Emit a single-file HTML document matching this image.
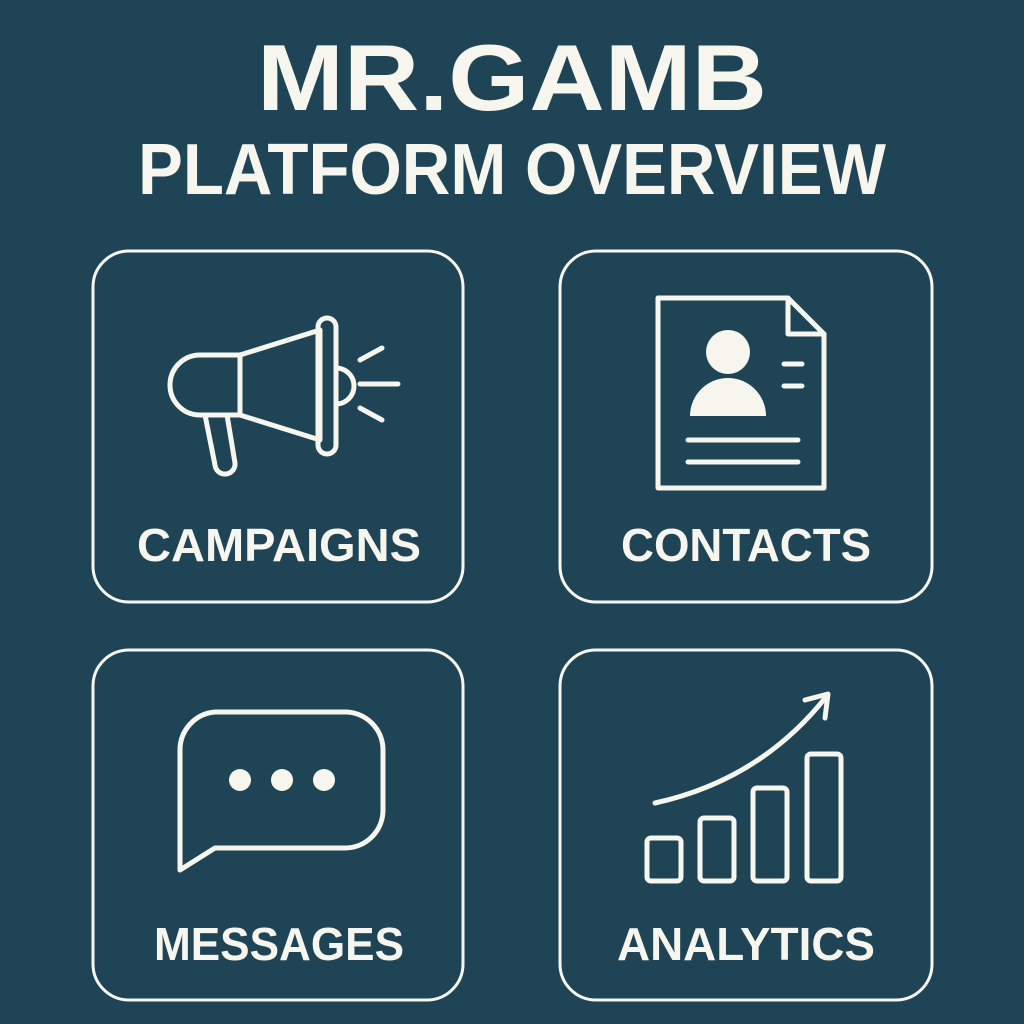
<!DOCTYPE html>
<html><head><meta charset="utf-8"><style>
html,body{margin:0;padding:0;background:#1e4455;}
svg{display:block}
text{font-family:"Liberation Sans",sans-serif;font-weight:bold;fill:#f7f6ee;text-anchor:middle}
</style></head><body>
<svg width="1024" height="1024" viewBox="0 0 1024 1024">
<rect width="1024" height="1024" fill="#1e4455"/>
<text x="512" y="110" font-size="94" textLength="510" lengthAdjust="spacingAndGlyphs">MR.GAMB</text>
<text x="512" y="194" font-size="72" textLength="748" lengthAdjust="spacingAndGlyphs">PLATFORM OVERVIEW</text>
<g fill="none" stroke="#f7f6ee" stroke-width="3">
<rect x="93" y="251" width="370" height="351" rx="36"/>
<rect x="560" y="251" width="372" height="351" rx="36"/>
<rect x="93" y="650" width="370" height="350" rx="36"/>
<rect x="560" y="650" width="372" height="350" rx="36"/>
</g>
<text x="279" y="561" font-size="46" textLength="284" lengthAdjust="spacingAndGlyphs">CAMPAIGNS</text>
<text x="746" y="561" font-size="46" textLength="250" lengthAdjust="spacingAndGlyphs">CONTACTS</text>
<text x="279" y="960" font-size="46" textLength="250" lengthAdjust="spacingAndGlyphs">MESSAGES</text>
<text x="746" y="960" font-size="46" textLength="258" lengthAdjust="spacingAndGlyphs">ANALYTICS</text>
<g fill="none" stroke="#f7f6ee" stroke-width="5" stroke-linecap="round" stroke-linejoin="round">
<!-- megaphone -->
<path d="M200 355 h40 v60 h-40 a30 30 0 0 1 0 -60 z"/>
<path d="M240 355 L320 330 v110 L240 415"/>
<rect x="318" y="318" width="18" height="136" rx="9"/>
<path d="M336 368 a18 18 0 0 1 0 36"/>
<path d="M205 415 l10 50 a10 10 0 0 0 20 -2 l-8 -48"/>
<path d="M360 360 l22 -12 M360 384 h38 M360 408 l22 12"/>
<!-- contact doc -->
<path d="M658 298 h130 l36 36 v154 h-166 z"/>
<path d="M788 298 v36 h36"/>
<path d="M784 364 h18 M784 386 h18 M688 440 h110 M688 462 h110"/>
<!-- chat -->
<path d="M215 712 h130 a38 38 0 0 1 38 38 v60 a38 38 0 0 1 -38 38 h-130 l-35 22 v-120 a38 38 0 0 1 35 -38 z"/>
<!-- analytics -->
<rect x="647" y="838" width="34" height="43" rx="4"/>
<rect x="700" y="818" width="34" height="63" rx="4"/>
<rect x="753" y="788" width="34" height="93" rx="4"/>
<rect x="807" y="754" width="34" height="127" rx="4"/>
<path d="M655 803 Q760 780 826 697"/>
<path d="M805 700 L828 694 L825 718"/>
</g>
<g fill="#f7f6ee">
<circle cx="728" cy="352" r="22"/>
<path d="M690 416 a38 38 0 0 1 76 0 z"/>
<circle cx="240" cy="780" r="11"/>
<circle cx="282" cy="780" r="11"/>
<circle cx="324" cy="780" r="11"/>
</g>
</svg>
</body></html>
